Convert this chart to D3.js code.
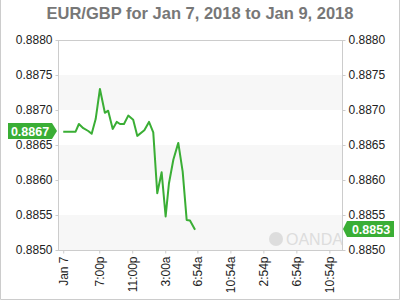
<!DOCTYPE html>
<html>
<head>
<meta charset="utf-8">
<script src="https://cdn.jsdelivr.net/npm/d3@7"></script>
<style>
  body { margin: 0; background: #fff; }
  svg text { font-family: "Liberation Sans", Arial, sans-serif; }
</style>
</head>
<body>
<div id="chart"></div>
<script>
// price series (EUR/GBP)
var times = ["2018-01-07 14:38", "2018-01-07 16:08", "2018-01-07 16:32", "2018-01-07 17:04", "2018-01-07 17:40",
  "2018-01-07 18:05", "2018-01-07 18:34", "2018-01-07 19:05", "2018-01-07 19:41", "2018-01-07 20:05",
  "2018-01-07 20:38", "2018-01-07 21:07", "2018-01-07 21:31", "2018-01-07 22:00", "2018-01-07 22:31",
  "2018-01-07 23:07", "2018-01-07 23:37", "2018-01-08 00:28", "2018-01-08 01:02", "2018-01-08 01:33",
  "2018-01-08 02:02", "2018-01-08 02:34", "2018-01-08 03:03", "2018-01-08 03:27", "2018-01-08 03:59",
  "2018-01-08 04:35", "2018-01-08 05:07", "2018-01-08 05:36", "2018-01-08 06:00", "2018-01-08 06:37"];
var prices = [0.88669, 0.88669, 0.88680, 0.88674, 0.88670,
  0.88666, 0.88687, 0.88730, 0.88696, 0.88699,
  0.88673, 0.88683, 0.88680, 0.88680, 0.88692,
  0.88686, 0.88663, 0.88671, 0.88683, 0.88668,
  0.88581, 0.88611, 0.88548, 0.88595, 0.88629,
  0.88653, 0.88612, 0.88543, 0.88542, 0.88529];

var tickTimes = ["2018-01-07 14:38", "2018-01-07 19:00", "2018-01-07 23:00", "2018-01-08 03:00", "2018-01-08 06:54",
  "2018-01-08 10:54", "2018-01-08 14:54", "2018-01-08 18:54", "2018-01-08 22:54"];
var tickLabels = ["Jan 7", "7:00p", "11:00p", "3:00a", "6:54a", "10:54a", "2:54p", "6:54p", "10:54p"];
var yTicks = [0.8850, 0.8855, 0.8860, 0.8865, 0.8870, 0.8875, 0.8880];
var openPrice = 0.8867;
var lastPrice = 0.8853;
var domainStart = "2018-01-07 14:00";
var domainEnd = "2018-01-09 00:26";

var title = "EUR/GBP for Jan 7, 2018 to Jan 9, 2018";
var green = "#3aae35";

var parseTime = d3.timeParse("%Y-%m-%d %H:%M");
var data = times.map(function(t, i) { return {date: parseTime(t), value: prices[i]}; });

var W = 400, H = 300;
var margin = {top: 40, right: 58, bottom: 50, left: 58},
    width = W - margin.left - margin.right,
    height = H - margin.top - margin.bottom;

var svg = d3.select("#chart").append("svg")
  .attr("width", W)
  .attr("height", H);

// outer frame (left, right, bottom)
svg.append("path")
  .attr("d", "M0.5,0 V299.5 H399.5 V0")
  .attr("fill", "none")
  .attr("stroke", "#cccccc");

// title
svg.append("text")
  .attr("x", W / 2)
  .attr("y", 19)
  .attr("text-anchor", "middle")
  .attr("font-size", "16.5px")
  .attr("font-weight", "bold")
  .attr("fill", "#777777")
  .text(title);

var g = svg.append("g")
  .attr("transform", "translate(" + margin.left + "," + margin.top + ")");

var x = d3.scaleTime()
  .domain([parseTime(domainStart), parseTime(domainEnd)])
  .range([0, width]);

var y = d3.scaleLinear()
  .domain([0.8850, 0.8880])
  .range([height, 0]);

// alternating bands
var bands = [[0.8870, 0.8875], [0.8860, 0.8865], [0.8850, 0.8855]];
g.selectAll(".band")
  .data(bands).enter()
  .append("rect")
  .attr("x", 0)
  .attr("width", width)
  .attr("y", function(d) { return y(d[1]); })
  .attr("height", function(d) { return y(d[0]) - y(d[1]); })
  .attr("fill", "#f7f7f7");

// watermark
var wm = g.append("g").attr("transform", "translate(" + (width - 66) + "," + (height - 11) + ")");
wm.append("circle")
  .attr("r", 7)
  .attr("fill", "#dddddd");
wm.append("text")
  .attr("x", 10)
  .attr("y", 6)
  .attr("font-size", "16px")
  .attr("fill", "#dddddd")
  .text("OANDA");

// plot frame
g.append("rect")
  .attr("x", 0.5)
  .attr("y", 0.5)
  .attr("width", width)
  .attr("height", height)
  .attr("fill", "none")
  .attr("stroke", "#cccccc");

// y axes, left and right
var yLeft = g.append("g")
  .attr("transform", "translate(0.5,0)")
  .call(d3.axisLeft(y).tickValues(yTicks).tickFormat(d3.format(".4f")).tickSize(3).tickPadding(3));
var yRight = g.append("g")
  .attr("transform", "translate(" + (width + 0.5) + ",0)")
  .call(d3.axisRight(y).tickValues(yTicks).tickFormat(d3.format(".4f")).tickSize(3).tickPadding(3));
[yLeft, yRight].forEach(function(a) {
  a.select(".domain").remove();
  a.selectAll("line").attr("stroke", "#cccccc");
  a.selectAll("text").attr("font-size", "12px").attr("fill", "#222222")
    .attr("font-family", "'Liberation Sans', Arial, sans-serif");
});

// x axis
var xAxis = g.append("g")
  .attr("transform", "translate(0," + (height + 0.5) + ")")
  .call(d3.axisBottom(x).tickValues(tickTimes.map(parseTime))
    .tickFormat(function(d, i) { return tickLabels[i]; }).tickSize(3));
xAxis.select(".domain").remove();
xAxis.selectAll("line").attr("stroke", "#cccccc");
xAxis.selectAll("text")
  .attr("font-size", "12px")
  .attr("fill", "#222222")
  .attr("font-family", "'Liberation Sans', Arial, sans-serif")
  .attr("transform", "rotate(-90)")
  .attr("text-anchor", "end")
  .attr("x", -6)
  .attr("y", 0)
  .attr("dy", "0.35em");

// price line
g.append("path")
  .datum(data)
  .attr("fill", "none")
  .attr("stroke", green)
  .attr("stroke-width", 2)
  .attr("stroke-linejoin", "round")
  .attr("d", d3.line()
    .x(function(d) { return x(d.date); })
    .y(function(d) { return y(d.value); }));

// left price tag (open)
var yo = y(openPrice);
g.append("path")
  .attr("d", "M-50," + (yo - 8) + " H-6 L-1," + yo + " L-6," + (yo + 8) + " H-50 Z")
  .attr("fill", green);
g.append("text")
  .attr("x", -28)
  .attr("y", yo + 4.5)
  .attr("text-anchor", "middle")
  .attr("font-size", "12.5px")
  .attr("font-weight", "bold")
  .attr("fill", "#ffffff")
  .text(d3.format(".4f")(openPrice));

// right price tag (last)
var yl = y(lastPrice);
g.append("path")
  .attr("d", "M" + (width + 1) + "," + yl + " L" + (width + 5) + "," + (yl - 8) + " H" + (width + 52) + " V" + (yl + 8) + " H" + (width + 5) + " Z")
  .attr("fill", green);
g.append("text")
  .attr("x", width + 29)
  .attr("y", yl + 4.5)
  .attr("text-anchor", "middle")
  .attr("font-size", "12.5px")
  .attr("font-weight", "bold")
  .attr("fill", "#ffffff")
  .text(d3.format(".4f")(lastPrice));
</script>
</body>
</html>
